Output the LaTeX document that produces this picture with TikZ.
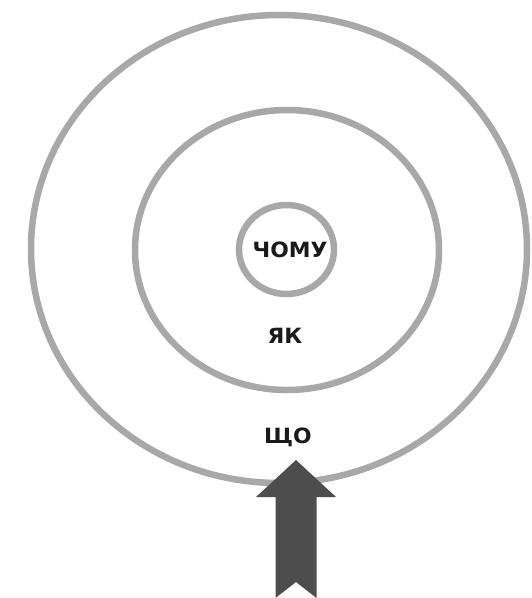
\documentclass[tikz,border=0pt]{standalone}
\usepackage{fontspec}
\setmainfont{DejaVu Sans}
\newcommand{\widetxt}[1]{\scalebox{1.04}[1]{#1}}
\begin{document}
\begin{tikzpicture}[x=1pt,y=-1pt,
  ring/.style={draw=ringgray,line width=6.5pt},
  lbl/.style={font=\fontsize{21}{25}\selectfont\bfseries,text=txt,inner sep=0pt},
  arrowfill/.style={fill=arrowgray,draw=none}]
\definecolor{ringgray}{HTML}{A8A8A8}
\definecolor{arrowgray}{HTML}{4D4D4D}
\definecolor{txt}{HTML}{1A1A1A}
\useasboundingbox (0,0) rectangle (531,598);
\fill[white] (0,0) rectangle (531,598);
\draw[ring] (279,249) ellipse [x radius=248, y radius=234];
\draw[ring] (287,250) ellipse [x radius=152, y radius=140];
\draw[ring] (286.5,249.5) ellipse [x radius=47.5, y radius=44.5];
\node[lbl] (why) at (290,250) {\widetxt{ЧОМУ}};
\node[lbl] (how) at (285,336) {\widetxt{ЯК}};
\node[lbl,anchor=base] (what) at (288,443) {\widetxt{ЩО}};
\fill[arrowfill] (296,460) -- (336,497) -- (316.5,497) -- (316.5,598) -- (296,582) -- (275.5,598) -- (275.5,497) -- (256,497) -- cycle;
\end{tikzpicture}
\end{document}
